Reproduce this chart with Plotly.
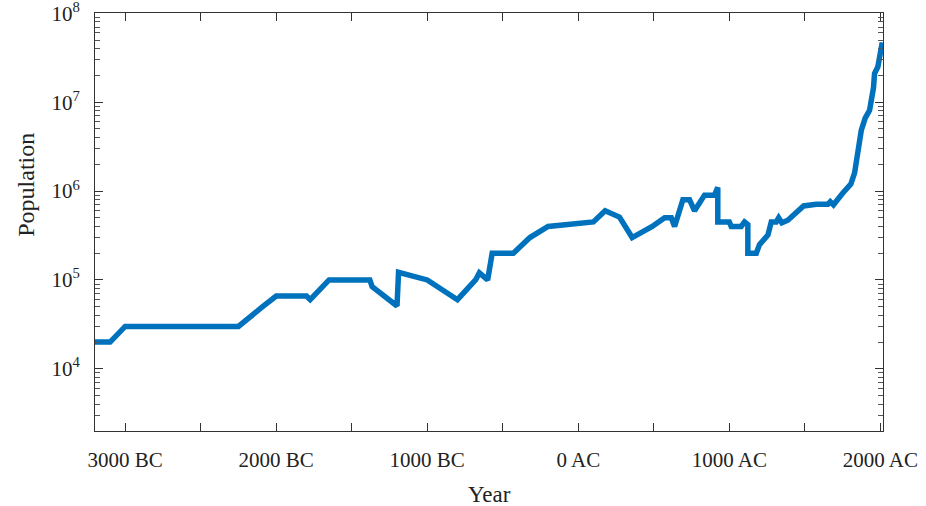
import plotly.graph_objects as go

# Historical population estimates (negative years = BC)
years = [-3200, -3100, -3000, -2250, -2090, -2000, -1800, -1775, -1650, -1380,
         -1365, -1200, -1190, -1000, -800, -680, -655, -600, -570, -430,
         -320, -200, 100, 178, 273, 357, 490, 572, 616, 638, 693, 737,
         770, 836, 902, 924, 924, 1000, 1013, 1079, 1101, 1123, 1123, 1179,
         1200, 1256, 1278, 1311, 1327, 1348, 1388, 1444, 1492, 1576, 1653,
         1669, 1690, 1752, 1805, 1830, 1874, 1900, 1929, 1955, 1962, 1984, 2013]
population = [20000, 20000, 30000, 30000, 50000, 66000, 66000, 60000, 100000, 100000,
              84000, 51000, 122000, 100000, 60000, 100000, 120000, 100000, 200000, 200000,
              300000, 400000, 450000, 600000, 510000, 300000, 400000, 500000, 500000, 400000,
              800000, 800000, 600000, 900000, 900000, 1100000, 450000, 450000, 400000, 400000,
              450000, 420000, 200000, 200000, 250000, 320000, 450000, 450000, 500000, 440000,
              470000, 575000, 680000, 710000, 710000, 760000, 700000, 950000, 1200000, 1600000,
              4800000, 6600000, 8100000, 14500000, 21000000, 25000000, 47000000]

# Axis ticks
x_ticks = [-3000, -2500, -2000, -1500, -1000, -500, 0, 500, 1000, 1500, 2000]
x_labels = ["3000 BC", "", "2000 BC", "", "1000 BC", "", "0 AC", "", "1000 AC", "", "2000 AC"]
y_ticks = [1e4, 1e5, 1e6, 1e7, 1e8]
y_labels = ["10<sup>4</sup>", "10<sup>5</sup>", "10<sup>6</sup>", "10<sup>7</sup>", "10<sup>8</sup>"]
y_minor = [m * 10 ** k for k in range(3, 8) for m in range(2, 10) if m * 10 ** k >= 2000]

FONT = "Liberation Serif"
AXIS_COLOR = "#333333"
TEXT_COLOR = "#222222"

fig = go.Figure()
fig.add_trace(go.Scatter(
    x=years, y=population, mode="lines",
    line=dict(color="#0072BD", width=5.5),
    hoverinfo="x+y", showlegend=False,
))

fig.update_layout(
    width=926, height=506,
    margin=dict(l=95, r=43, t=13, b=75),
    paper_bgcolor="white", plot_bgcolor="white",
    font=dict(family=FONT, size=20, color=TEXT_COLOR),
    annotations=[
        dict(text="Year", xref="paper", yref="paper", x=0.5, y=-0.152,
             xanchor="center", yanchor="middle", showarrow=False,
             font=dict(family=FONT, size=23, color=TEXT_COLOR)),
        dict(text="Population", xref="paper", yref="paper", x=-0.0876, y=0.589,
             xanchor="center", yanchor="middle", textangle=-90, showarrow=False,
             font=dict(family=FONT, size=24, color=TEXT_COLOR)),
    ],
)

fig.update_xaxes(
    range=[-3200, 2018], automargin=False,
    tickmode="array", tickvals=x_ticks, ticktext=x_labels,
    ticks="inside", ticklen=8, tickwidth=1, tickcolor=AXIS_COLOR,
    ticklabelstandoff=10, ticklabeloverflow="allow", tickfont=dict(size=21),
    showline=True, linecolor=AXIS_COLOR, linewidth=1, mirror="ticks",
    showgrid=False, zeroline=False,
)

fig.update_yaxes(
    type="log", range=[3.301, 8.003], automargin=False,
    tickmode="array", tickvals=y_ticks, ticktext=y_labels,
    ticks="inside", ticklen=8, tickwidth=1, tickcolor=AXIS_COLOR,
    ticklabelstandoff=10, ticklabeloverflow="allow", tickfont=dict(size=21),
    minor=dict(tickmode="array", tickvals=y_minor, ticks="inside",
               ticklen=5, tickwidth=1, tickcolor="#555555", showgrid=False),
    showline=True, linecolor=AXIS_COLOR, linewidth=1, mirror="ticks",
    showgrid=False, zeroline=False,
)

fig.write_html("out.html")
